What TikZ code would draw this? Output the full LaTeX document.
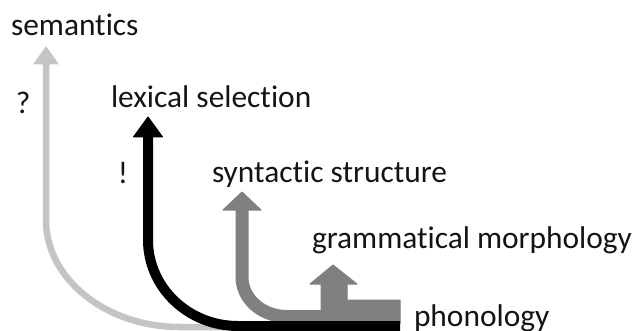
\documentclass[tikz,border=0pt]{standalone}
\usepackage{fontspec}
\setmainfont{Carlito}[Ligatures=CommonOff]
\definecolor{paleroute}{RGB}{196,196,196}
\definecolor{midroute}{RGB}{128,128,128}
\definecolor{inkcol}{RGB}{20,20,20}
\begin{document}
\begin{tikzpicture}[x=1pt,y=-1pt,
    lbl/.style={inner sep=0pt,outer sep=0pt,text=inkcol,font=\fontsize{31.4}{36}\selectfont},
    route/.style={line cap=butt,line join=round},
    tiphead/.style={line width=1pt,line join=round}]
  \useasboundingbox (0,0) rectangle (636,331);

  % labels
  \node[lbl,anchor=base west] (sem) at (11,36) {semantics};
  \node[lbl,anchor=base west] (q) at (16,114) {?};
  \node[lbl,anchor=base west] (lex) at (111,108) {lexical selection};
  \node[lbl,anchor=base] (ex) at (123,183) {!};
  \node[lbl,anchor=base west] (syn) at (212,182) {syntactic structure};
  \node[lbl,anchor=base west] (gram) at (312,248) {grammatical morphology};
  \node[lbl,anchor=base west] (phon) at (414,326) {phonology};

  % arrow tips
  \coordinate (semtip) at (46,47);
  \coordinate (lextip) at (148,117);
  \coordinate (syntip) at (242,192);
  \coordinate (gramtip) at (333,265);

  % semantics route (pale)
  \draw[route,paleroute,line width=6.5pt]
    (46,62) -- (46,220) .. controls (46,279) and (106,327) .. (180,327) -- (260,327);
  \filldraw[tiphead,paleroute] (semtip) -- (58,64) -- (34,64) -- cycle;

  % syntactic structure route (mid grey)
  \draw[route,midroute,line width=13pt]
    (242,208) -- (242,277) .. controls (242,299) and (262,316.5) .. (287,316.5) -- (400,316.5);
  \filldraw[tiphead,midroute] (syntip) -- (261,210) -- (223,210) -- cycle;

  % grammatical morphology block arrow
  \filldraw[tiphead,midroute] (gramtip) -- (357,284) -- (347,284) -- (347,300)
    -- (400,300) -- (400,323) -- (321,323) -- (321,284) -- (310,284) -- cycle;

  % lexical selection route (black)
  \draw[route,black,line width=10pt]
    (148,135) -- (148,240) .. controls (148,287.5) and (188.3,326) .. (238,326) -- (400,326);
  \filldraw[tiphead,black] (lextip) -- (162.5,137) -- (133.5,137) -- cycle;
\end{tikzpicture}
\end{document}
